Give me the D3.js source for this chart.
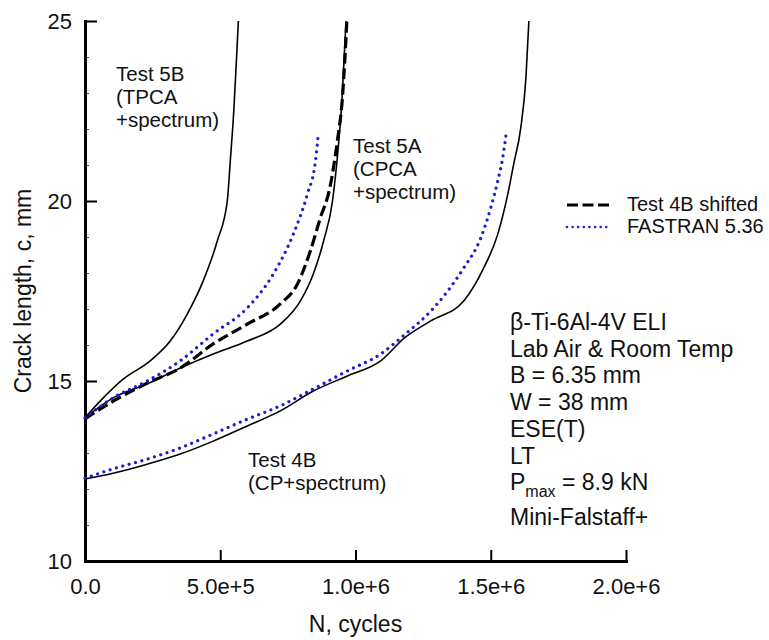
<!DOCTYPE html>
<html>
<head>
<meta charset="utf-8">
<script src="https://cdn.jsdelivr.net/npm/d3@7"></script>
<style>
  html, body { margin: 0; padding: 0; background: #fff; }
  svg { display: block; }
  text { font-family: "Liberation Sans", Arial, Helvetica, sans-serif; fill: #111; }
</style>
</head>
<body>
<svg id="chart" width="769" height="640"></svg>
<script>
// Crack length vs. cycles, beta-Ti-6Al-4V ELI ESE(T) specimens
const xTicks = [0, 5e5, 1e6, 1.5e6, 2e6];
const xTickLabels = ["0.0", "5.0e+5", "1.0e+6", "1.5e+6", "2.0e+6"];
const yTicks = [10, 15, 20, 25];

// Test 5B (TPCA + spectrum)
const test5B_N = [0, 56e3, 141e3, 241e3, 315e3, 378e3, 437e3, 489e3, 526e3, 537e3, 550e3, 559e3, 567e3];
const test5B_c = [13.98, 14.44, 15.05, 15.56, 16.11, 16.86, 17.78, 18.89, 20.0, 21.1, 22.5, 23.8, 25.0];

// Test 5A (CPCA + spectrum)
const test5A_N = [0, 104e3, 230e3, 352e3, 474e3, 600e3, 722e3, 796e3, 844e3, 882e3, 915e3, 935e3, 950e3, 965e3];
const test5A_c = [13.98, 14.53, 14.92, 15.36, 15.75, 16.11, 16.58, 17.22, 17.97, 18.89, 20.0, 21.39, 22.8, 25.0];

// Test 4B shifted
const test4BShift_N = [0, 104e3, 230e3, 352e3, 474e3, 600e3, 722e3, 785e3, 833e3, 870e3, 905e3, 933e3, 952e3, 968e3];
const test4BShift_c = [13.95, 14.44, 14.94, 15.36, 16.03, 16.58, 17.14, 17.69, 18.61, 19.53, 20.36, 21.67, 22.9, 25.0];

// FASTRAN 5.36 prediction for Test 5A
const fastran5A_N = [0, 104e3, 230e3, 352e3, 474e3, 600e3, 696e3, 770e3, 822e3, 852e3, 863e3];
const fastran5A_c = [13.98, 14.53, 15.0, 15.56, 16.31, 17.03, 17.97, 19.08, 20.19, 21.11, 21.89];

// Test 4B (CP + spectrum)
const test4B_N = [0, 104e3, 230e3, 352e3, 474e3, 600e3, 722e3, 844e3, 970e3, 1093e3, 1180e3, 1278e3, 1400e3, 1474e3, 1526e3, 1563e3, 1585e3, 1611e3, 1630e3, 1641e3];
const test4B_c = [12.28, 12.44, 12.69, 12.97, 13.33, 13.75, 14.17, 14.72, 15.14, 15.56, 16.19, 16.67, 17.22, 18.14, 19.08, 20.19, 21.03, 22.03, 23.42, 25.0];

// FASTRAN 5.36 prediction for Test 4B
const fastran4B_N = [0, 104e3, 230e3, 352e3, 474e3, 600e3, 722e3, 844e3, 970e3, 1093e3, 1185e3, 1278e3, 1341e3, 1400e3, 1463e3, 1500e3, 1526e3, 1544e3, 1556e3];
const fastran4B_c = [12.3, 12.56, 12.83, 13.14, 13.53, 13.94, 14.31, 14.78, 15.28, 15.75, 16.31, 16.94, 17.5, 18.14, 18.97, 19.81, 20.56, 21.19, 21.81];

const legendLabels = ["Test 4B shifted", "FASTRAN 5.36"];
const conditions = ["β-Ti-6Al-4V ELI", "Lab Air & Room Temp", "B = 6.35 mm", "W = 38 mm", "ESE(T)", "LT", "P|max| = 8.9 kN", "Mini-Falstaff+"];

const BLUE = "#1c1cd2";

const svg = d3.select("#chart");
const mLeft = 85, mRight = 626, mTop = 21, mBottom = 561;

const x = d3.scaleLinear().domain([0, 2e6]).range([mLeft, mRight]);
const y = d3.scaleLinear().domain([10, 25]).range([mBottom, mTop]);

const zip = (ns, cs) => ns.map((n, i) => [n, cs[i]]);
const line = d3.line().x(d => x(d[0])).y(d => y(d[1])).curve(d3.curveMonotoneX);

// minor y ticks
svg.append("g")
  .attr("transform", `translate(${mLeft},0)`)
  .call(d3.axisLeft(y).tickValues(d3.range(10, 26, 1).filter(v => v % 5 !== 0)).tickSize(-4).tickFormat(""))
  .call(g => g.select(".domain").remove())
  .call(g => g.selectAll(".tick line").attr("stroke", "#444").attr("stroke-width", 1));

// y axis
svg.append("g")
  .attr("transform", `translate(${mLeft},0)`)
  .call(d3.axisLeft(y).tickValues(yTicks).tickSize(-12).tickSizeOuter(0).tickPadding(13).tickFormat(d3.format("d")))
  .call(g => g.select(".domain").attr("stroke", "#000").attr("stroke-width", 3).attr("stroke-linecap", "square"))
  .call(g => g.selectAll(".tick line").attr("stroke", "#000").attr("stroke-width", 2))
  .call(g => g.selectAll(".tick text").attr("font-size", 22).attr("fill", "#111")
    .style("font-family", '"Liberation Sans", Arial, sans-serif'));

// x axis
svg.append("g")
  .attr("transform", `translate(0,${mBottom})`)
  .call(d3.axisBottom(x).tickValues(xTicks).tickSize(-11).tickSizeOuter(0).tickPadding(17)
    .tickFormat((d, i) => xTickLabels[i]))
  .call(g => g.select(".domain").attr("stroke", "#000").attr("stroke-width", 3).attr("stroke-linecap", "square"))
  .call(g => g.selectAll(".tick line").attr("stroke", "#000").attr("stroke-width", 2))
  .call(g => g.selectAll(".tick text").attr("font-size", 22).attr("fill", "#111")
    .style("font-family", '"Liberation Sans", Arial, sans-serif'));

// axis titles
svg.append("text")
  .attr("x", (mLeft + mRight) / 2).attr("y", 632)
  .attr("text-anchor", "middle").attr("font-size", 23)
  .text("N, cycles");
svg.append("text")
  .attr("transform", `translate(31,${(mTop + mBottom) / 2}) rotate(-90)`)
  .attr("text-anchor", "middle").attr("font-size", 23)
  .text("Crack length, c, mm");

// curves
const plot = svg.append("g");
const solid = (n, c) => plot.append("path").datum(zip(n, c)).attr("d", line)
  .attr("fill", "none").attr("stroke", "#000").attr("stroke-width", 1.6);
const dotted = (n, c) => plot.append("path").datum(zip(n, c)).attr("d", line)
  .attr("fill", "none").attr("stroke", BLUE).attr("stroke-width", 3.2)
  .attr("stroke-linecap", "round").attr("stroke-dasharray", "0.01 6.6");

solid(test5B_N, test5B_c);
solid(test5A_N, test5A_c);
solid(test4B_N, test4B_c);
plot.append("path").datum(zip(test4BShift_N, test4BShift_c)).attr("d", line)
  .attr("fill", "none").attr("stroke", "#000").attr("stroke-width", 3.2)
  .attr("stroke-dasharray", "11 4.5");
dotted(fastran5A_N, fastran5A_c);
dotted(fastran4B_N, fastran4B_c);

// curve labels
function block(x0, y0, lines, size, lh) {
  const t = svg.append("text").attr("font-size", size);
  lines.forEach((s, i) => t.append("tspan").attr("x", x0).attr("y", y0 + i * lh).text(s));
}
block(116, 81, ["Test 5B", "(TPCA", "+spectrum)"], 20.5, 23);
block(353, 153, ["Test 5A", "(CPCA", "+spectrum)"], 20.5, 23);
block(248, 467, ["Test 4B", "(CP+spectrum)"], 20.5, 23);

// legend
const lg = svg.append("g");
lg.append("line").attr("x1", 567).attr("x2", 609).attr("y1", 205).attr("y2", 205)
  .attr("stroke", "#000").attr("stroke-width", 3.2).attr("stroke-dasharray", "11 4.5");
lg.append("line").attr("x1", 567).attr("x2", 609).attr("y1", 227).attr("y2", 227)
  .attr("stroke", BLUE).attr("stroke-width", 2.6).attr("stroke-linecap", "round").attr("stroke-dasharray", "0.01 5.6");
lg.selectAll("text.lg").data(legendLabels).join("text")
  .attr("x", 627).attr("y", (d, i) => 211 + i * 22).attr("font-size", 20).text(d => d);

// test conditions
const cond = svg.append("g");
conditions.forEach((s, i) => {
  const yy = 330 + i * 26.7 + (i === 7 ? 8 : 0);
  const t = cond.append("text").attr("x", 510).attr("y", yy).attr("font-size", 23);
  if (s.includes("|")) {
    const [a, sub, b] = s.split("|");
    t.append("tspan").text(a);
    t.append("tspan").attr("font-size", 16).attr("dy", 7).text(sub);
    t.append("tspan").attr("dy", -7).text(b);
  } else {
    t.text(s);
  }
});
</script>
</body>
</html>
